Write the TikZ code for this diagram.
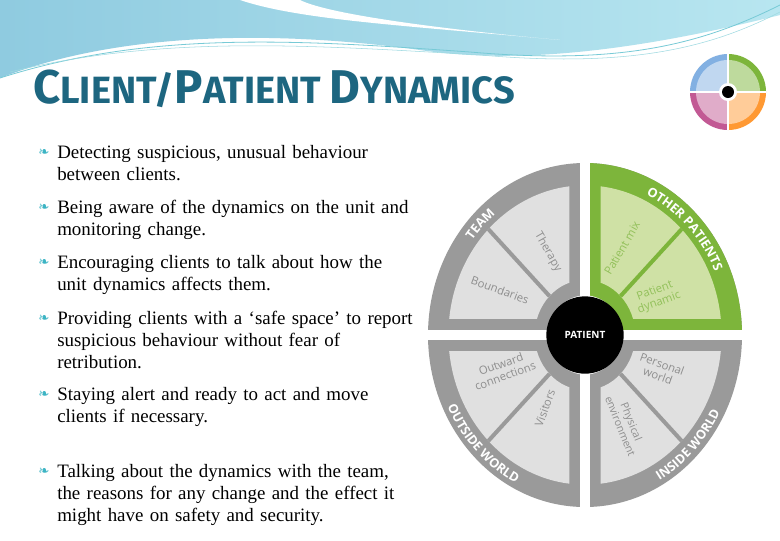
\documentclass[tikz,border=0pt]{standalone}
\usepackage{fontspec}
\setmainfont{Liberation Serif}
\newfontfamily\headfont{Fira Sans}
\newfontfamily\wheelfont{Open Sans}
\newfontfamily\symfont{DejaVu Sans}
\usetikzlibrary{decorations.text}
\definecolor{ringgray}{HTML}{9A9A9A}
\definecolor{lightgray}{HTML}{E0E0E0}
\definecolor{txtgray}{HTML}{8E8E8E}
\definecolor{dgreen}{HTML}{7DB53B}
\definecolor{lgreen}{HTML}{CFE1A5}
\definecolor{mgreen}{HTML}{92C05A}
\definecolor{titleteal}{HTML}{1D6680}
\definecolor{bullteal}{HTML}{3CB4C4}
\definecolor{wave1}{HTML}{8FCBE0}
\definecolor{wave2}{HTML}{B8E6F0}
\begin{document}
\begin{tikzpicture}[x=0.75pt,y=-0.75pt,
  bodytxt/.style={anchor=north west,align=left,font=\fontsize{14.2}{16.5}\selectfont,text width=400},
  bull/.style={anchor=north west,font=\symfont\fontsize{10}{10}\selectfont,text=bullteal,inner sep=0},
  inlab/.style={font=\wheelfont\fontsize{8.5}{9.5}\selectfont,text=txtgray,align=center},
  ringtxt/.style={decorate,decoration={text along path,text align=center,
     text={|\wheelfont\bfseries\fontsize{9.5}{9}\selectfont\color{white}|#1}}}]
\useasboundingbox (0,0) rectangle (780,540);
\fill[white] (0,0) rectangle (780,540);
% waves
\shade[left color=wave1,right color=wave2] (0,0) -- (780,0) -- (780,15) .. controls (640,50) and (520,65) .. (420,50) .. controls (260,28) and (110,35) .. (0,78) -- cycle;
\fill[white] (240,0) .. controls (300,20) and (400,25) .. (560,40) .. controls (450,30) and (330,15) .. (300,0) -- cycle;
\draw[bullteal!70,line width=0.6] (0,78) .. controls (150,30) and (300,40) .. (470,52) .. controls (620,65) and (700,45) .. (780,5);
\draw[bullteal!50,line width=0.4] (10,72) .. controls (160,35) and (310,45) .. (480,55) .. controls (630,68) and (710,48) .. (780,12);
% title
\node[anchor=west,text=titleteal,inner sep=0] (title) at (33,89) {\headfont\bfseries\fontsize{35.5}{38}\selectfont C\fontsize{28.5}{30}\selectfont LIENT/\fontsize{35.5}{38}\selectfont P\fontsize{28.5}{30}\selectfont ATIENT \fontsize{35.5}{38}\selectfont D\fontsize{28.5}{30}\selectfont YNAMICS};
% logo
\begin{scope}[shift={(728,92)},yscale=-1]
\fill[cyan!60!blue!50] (0,0) -- (180:38) arc (180:90:38) -- cycle;
\fill[dgreen] (0,0) -- (90:38) arc (90:0:38) -- cycle;
\fill[magenta!70!black!80] (0,0) -- (180:38) arc (180:270:38) -- cycle;
\fill[orange!80] (0,0) -- (0:38) arc (0:-90:38) -- cycle;
\fill[white,opacity=0.5] (0,0) circle (32);
\draw[white,line width=1.5] (-38,0) -- (38,0) (0,-38) -- (0,38);
\fill[white] (0,0) circle (9);
\fill[black] (0,0) circle (6);
\node[inner sep=0] (logo) at (0,0) {};
\end{scope}
% bullets
\foreach \y/\t in {145/{Detecting suspicious, unusual behaviour\\between clients.},
  200/{Being aware of the dynamics on the unit and\\monitoring change.},
  255/{Encouraging clients to talk about how the\\unit dynamics affects them.},
  311/{Providing clients with a ‘safe space’ to report\\suspicious behaviour without fear of\\retribution.},
  387/{Staying alert and ready to act and move\\clients if necessary.},
  464/{Talking about the dynamics with the team,\\the reasons for any change and the effect it\\might have on safety and security.}}{
  \node[bull] at (38,\y+4) {❧};
  \node[bodytxt,inner sep=0] at (57,\y) {\t};
}
% wheel
\begin{scope}[shift={(585,335)},x=117.75pt,y=129pt]
\fill[ringgray] (0,0) circle (1);
\fill[dgreen] (0,0) -- (0:1) arc (0:90:1) -- cycle;
\begin{scope}
\clip (0.10,0.095) rectangle (1,1);
\fill[lgreen,even odd rule] (0,0) circle (0.87) (0,0) circle (0.32);
\end{scope}
\foreach \sx/\sy in {-1/1,-1/-1,1/-1}{
\begin{scope}
\clip (0.10*\sx,0.095*\sy) rectangle (\sx,\sy);
\fill[lightgray,even odd rule] (0,0) circle (0.87) (0,0) circle (0.32);
\end{scope}}
\draw[dgreen,line width=3] (45:0.32) -- (45:0.87);
\draw[ringgray,line width=3] (135:0.32) -- (135:0.87) (225:0.32) -- (225:0.87) (315:0.32) -- (315:0.87);
\fill[white] (-1.01,-0.028) rectangle (1.01,0.028);
\fill[white] (-0.03,-1.01) rectangle (0.03,1.01);
\fill[white] (0,0) circle (0.23);
\path[ringtxt={TEAM}] (170:0.905) arc (170:100:0.905);
\path[ringtxt={OTHER PATIENTS}] (85:0.905) arc (85:5:0.905);
\path[ringtxt={OUTSIDE WORLD}] (185:0.97) arc (185:265:0.97);
\path[ringtxt={INSIDE WORLD}] (275:0.97) arc (275:355:0.97);
\end{scope}
\node[circle,fill=black,minimum size=58,inner sep=0,text=white,font=\wheelfont\bfseries\fontsize{7.5}{9}\selectfont] (patient) at (585,335) {PATIENT};
\node[inlab,rotate=-60] (therapy) at (548,252) {Therapy};
\node[inlab,rotate=-20] (bound) at (500,290) {Boundaries};
\node[inlab,text=mgreen,rotate=60] (pmix) at (622,248) {Patient mix};
\node[inlab,text=mgreen,rotate=20] (pdyn) at (657,297) {Patient\\dynamic};
\node[inlab,rotate=20] (outw) at (503,370) {Outward\\connections};
\node[inlab,rotate=70] (visit) at (545,408) {Visitors};
\node[inlab,rotate=-20] (pers) at (660,370) {Personal\\world};
\node[inlab,rotate=-68,font=\wheelfont\fontsize{8}{9}\selectfont] (phys) at (626,424) {Physical\\environment};
\end{tikzpicture}
\end{document}
